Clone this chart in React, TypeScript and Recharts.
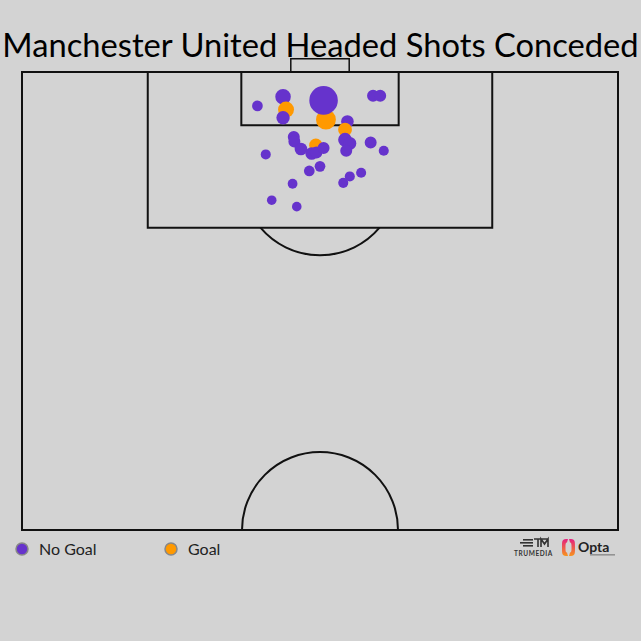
import { ScatterChart, Scatter, XAxis, YAxis, ZAxis, ReferenceArea, ReferenceDot, Cell } from 'recharts';

// Opta-style pitch coordinates: across = 0..100 (left to right), upfield = 50..100 (100 = goal line)
const shotAcross = [39.5, 43.8, 44.3, 43.8, 51.0, 50.6, 58.9, 60.1, 54.6, 54.2, 54.2, 55.0, 54.4, 58.5, 60.7, 45.6, 45.7, 46.8, 49.3, 48.6, 49.4, 50.6, 40.9, 48.2, 50.0, 45.4, 55.0, 56.9, 53.9, 41.9, 46.1];
const shotUpfield = [96.3, 97.3, 95.9, 95.0, 94.8, 96.9, 97.4, 97.4, 94.6, 93.7, 92.6, 92.2, 91.4, 92.3, 91.4, 92.9, 92.4, 91.6, 92.0, 91.1, 91.2, 91.7, 91.0, 89.2, 89.7, 87.8, 88.6, 89.0, 87.9, 86.0, 85.3];
const shotXg = [0.04, 0.14, 0.15, 0.09, 0.26, 0.59, 0.063, 0.063, 0.075, 0.1, 0.1, 0.083, 0.063, 0.063, 0.03, 0.063, 0.063, 0.075, 0.09, 0.075, 0.063, 0.063, 0.03, 0.04, 0.04, 0.025, 0.03, 0.03, 0.03, 0.022, 0.022];
const shotResult = ['No Goal', 'No Goal', 'Goal', 'No Goal', 'Goal', 'No Goal', 'No Goal', 'No Goal', 'No Goal', 'Goal', 'No Goal', 'No Goal', 'No Goal', 'No Goal', 'No Goal', 'No Goal', 'No Goal', 'No Goal', 'Goal', 'No Goal', 'No Goal', 'No Goal', 'No Goal', 'No Goal', 'No Goal', 'No Goal', 'No Goal', 'No Goal', 'No Goal', 'No Goal', 'No Goal'];

const legendItems = ['No Goal', 'Goal'];
const title = 'Manchester United Headed Shots Conceded';

const COLORS: Record<string, string> = { 'No Goal': '#6633CC', Goal: '#FF9900' };
const BG = '#d3d3d3';
const LINE = '#111';

const W = 641;
const H = 641;
const MARGIN = { top: 53.68, right: 23, bottom: 111, left: 22 };
const PX_PER_UNIT_Y = (H - MARGIN.top - MARGIN.bottom) / 52;
const ARC_R = 78;

const shots = shotAcross.map((x, i) => ({
  x,
  y: shotUpfield[i],
  xg: shotXg[i],
  result: shotResult[i],
}));

const penaltyArc = (props: any) => {
  const { cx, cy } = props;
  const d = 5.5 * PX_PER_UNIT_Y;
  const dx = Math.sqrt(ARC_R * ARC_R - d * d);
  return (
    <path
      d={`M ${cx - dx} ${cy + d} A ${ARC_R} ${ARC_R} 0 0 0 ${cx + dx} ${cy + d}`}
      fill="none"
      stroke={LINE}
      strokeWidth={2}
    />
  );
};

const centreArc = (props: any) => {
  const { cx, cy } = props;
  return (
    <path
      d={`M ${cx - ARC_R} ${cy} A ${ARC_R} ${ARC_R} 0 0 1 ${cx + ARC_R} ${cy}`}
      fill="none"
      stroke={LINE}
      strokeWidth={2}
    />
  );
};

function Backdrop() {
  return (
    <svg width={W} height={H} style={{ position: 'absolute', left: 0, top: 0 }}>
      <rect x={0} y={0} width={W} height={H} fill={BG} />
      <text x={320.5} y={57} textAnchor="middle" fontFamily="Lato" fontSize={32.7} fill="#000">
        {title}
      </text>
      {legendItems.map((name, i) => (
        <g key={name} transform={`translate(${22 + i * 149}, 549)`}>
          <circle r={6} fill={COLORS[name]} stroke="#888" strokeWidth={1.5} />
          <text x={17} y={6} fontFamily="Lato" fontSize={16} fill="#222">
            {name}
          </text>
        </g>
      ))}
      {/* logos */}
      <g>
        <rect x={523} y={539} width={10} height={1.6} fill="#333" />
        <rect x={520} y={542} width={13} height={1.6} fill="#333" />
        <rect x={523} y={545} width={10} height={1.6} fill="#333" />
        <path d="M 534 539 H 548 M 538 539 V 547 M 541 547 V 539 L 544.5 544 L 548 539 V 547" stroke="#333" strokeWidth={1.6} fill="none" />
        <text x={514} y={556} fontFamily="Lato" fontWeight={700} fontSize={6.5} letterSpacing={0.6} fill="#333">
          TRUMEDIA
        </text>
        <defs>
          <linearGradient id="optaGrad" x1="0" y1="0" x2="0" y2="1">
            <stop offset="0%" stopColor="#e4207f" />
            <stop offset="100%" stopColor="#f7941d" />
          </linearGradient>
        </defs>
        <path d="M 568 539 C 562 539 562 540 562 547.5 C 562 555 562 556 568 556 L 567 552.5 C 565.5 552.5 565.5 551 565.5 547.5 C 565.5 544 565.5 542.5 567 542.5 Z" fill="url(#optaGrad)" />
        <path d="M 569 539 C 575 539 575 540 575 547.5 C 575 555 575 556 569 556 L 570 552.5 C 571.5 552.5 571.5 551 571.5 547.5 C 571.5 544 571.5 542.5 570 542.5 Z" fill="url(#optaGrad)" />
        <text x={578} y={552} fontFamily="Lato" fontWeight={700} fontSize={14} fill="#222">
          Opta
        </text>
        <rect x={590} y={554.5} width={25} height={0.8} fill="#555" />
      </g>
    </svg>
  );
}

export default function App() {
  return (
    <div style={{ position: 'absolute', left: 0, top: 0, width: W, height: H, background: BG }}>
      <Backdrop />
      <div style={{ position: 'absolute', left: 0, top: 0 }}>
        <ScatterChart width={W} height={H} margin={MARGIN}>
          <XAxis type="number" dataKey="x" domain={[0, 100]} hide />
          <YAxis type="number" dataKey="y" domain={[50, 102]} hide />
          <ZAxis type="number" dataKey="xg" domain={[0, 0.6]} range={[50, 650]} />
          <ReferenceArea x1={0} x2={100} y1={50} y2={100} fill="none" stroke={LINE} strokeWidth={2} fillOpacity={0} />
          <ReferenceArea x1={21.1} x2={78.9} y1={83} y2={100} fill="none" stroke={LINE} strokeWidth={2} fillOpacity={0} />
          <ReferenceArea x1={36.8} x2={63.2} y1={94.2} y2={100} fill="none" stroke={LINE} strokeWidth={2} fillOpacity={0} />
          <ReferenceArea x1={45.1} x2={54.9} y1={100} y2={101.45} fill="none" stroke={LINE} strokeWidth={1.5} fillOpacity={0} />
          <ReferenceDot x={50} y={88.5} r={ARC_R} shape={penaltyArc} />
          <ReferenceDot x={50} y={50} r={ARC_R} shape={centreArc} />
          <Scatter data={shots} isAnimationActive={false}>
            {shots.map((s, i) => (
              <Cell key={i} fill={COLORS[s.result]} />
            ))}
          </Scatter>
        </ScatterChart>
      </div>
    </div>
  );
}
